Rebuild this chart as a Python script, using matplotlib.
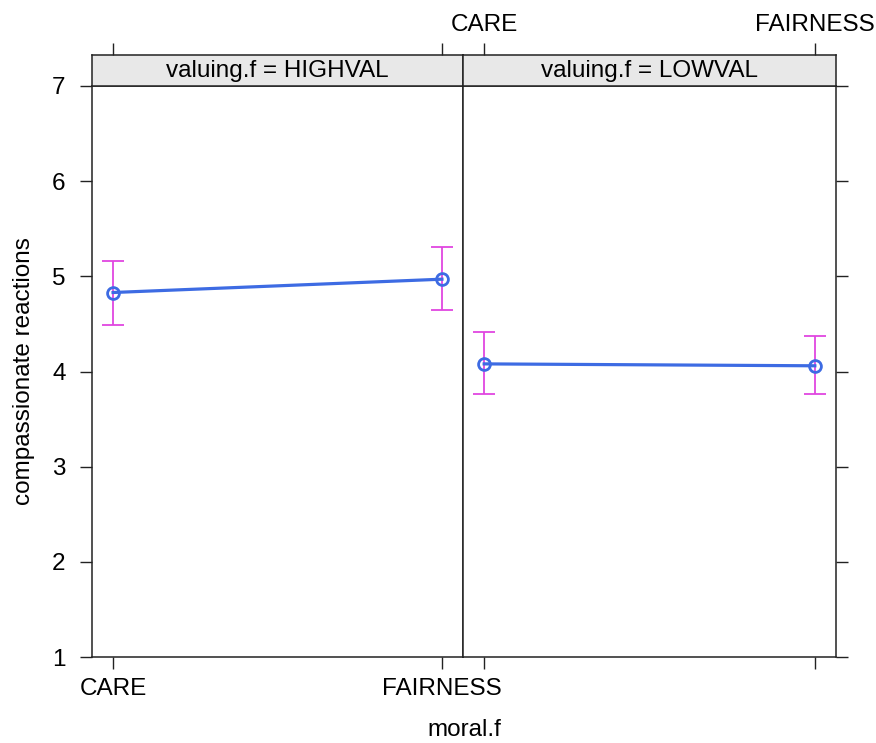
import matplotlib.pyplot as plt
import numpy as np

plt.rcParams['font.family'] = ['Liberation Sans', 'DejaVu Sans']

# effect estimates
moral_levels = ['CARE', 'FAIRNESS']
panels = ['HIGHVAL', 'LOWVAL']
fit = {'HIGHVAL': [4.83, 4.97], 'LOWVAL': [4.08, 4.06]}
lower = {'HIGHVAL': [4.49, 4.65], 'LOWVAL': [3.76, 3.76]}
upper = {'HIGHVAL': [5.16, 5.31], 'LOWVAL': [4.42, 4.37]}
y_ticks = [1, 2, 3, 4, 5, 6, 7]

W, H = 876, 743
fig = plt.figure(figsize=(W / 100, H / 100), dpi=100)

line_col = '#3d6be3'
ci_col = '#e046e0'
tick_len = 8.5
fs = 17.5

edges = [(92, 463), (463, 836)]
top, bottom, strip_top = 86, 657, 55
x = np.arange(len(moral_levels))

for i, (lvl, (x0, x1)) in enumerate(zip(panels, edges)):
    ax = fig.add_axes([x0 / W, 1 - bottom / H, (x1 - x0) / W, (bottom - top) / H])
    st = fig.add_axes([x0 / W, 1 - top / H, (x1 - x0) / W, (top - strip_top) / H])

    f = np.array(fit[lvl])
    lo = np.array(lower[lvl])
    hi = np.array(upper[lvl])
    ax.errorbar(x, f, yerr=[f - lo, hi - f], fmt='none', ecolor=ci_col,
                elinewidth=1.3, capsize=8, capthick=1.3, zorder=2)
    ax.plot(x, f, color=line_col, lw=2.3, marker='o', ms=8.5, mfc='none',
            mec=line_col, mew=2, zorder=3)

    ax.set_xlim(-0.064, 1.064)
    ax.set_ylim(1, 7)
    ax.set_yticks(y_ticks)
    ax.set_xticks(x)
    for s in ax.spines.values():
        s.set_linewidth(1.1)
        s.set_color('#222222')
    ax.tick_params(direction='out', length=tick_len, width=1, color='#222222',
                   labelsize=fs)
    ax.tick_params(axis='x', pad=6.5)
    ax.tick_params(axis='y', pad=10.5)
    if i == 0:
        ax.set_xticklabels(moral_levels)
        ax.tick_params(axis='y', left=True, right=False, labelleft=True)
    else:
        ax.set_xticklabels([])
        ax.tick_params(axis='y', left=False, right=True, labelleft=False,
                       labelright=False)

    # strip on top
    st.set_facecolor('#e8e8e8')
    st.set_xlim(-0.064, 1.064)
    st.set_ylim(0, 1)
    st.set_yticks([])
    st.set_xticks(x)
    for s in st.spines.values():
        s.set_linewidth(1.1)
        s.set_color('#222222')
    st.tick_params(axis='x', bottom=False, top=True, labelbottom=False,
                   direction='out', length=tick_len, width=1, color='#222222',
                   labelsize=fs, pad=5)
    if i == 1:
        st.set_xticklabels(moral_levels)
        st.tick_params(axis='x', labeltop=True)
    else:
        st.tick_params(axis='x', labeltop=False)
    st.text(0.5, 0.5, 'valuing.f = ' + lvl, transform=st.transAxes,
            ha='center', va='center', fontsize=fs)

fig.text(464 / W, 1 - 730 / H, 'moral.f', ha='center', va='center', fontsize=fs)
fig.text(24 / W, 1 - 371 / H, 'compassionate reactions', rotation=90,
         ha='center', va='center', fontsize=fs)

fig.savefig('out.png', dpi=100)
